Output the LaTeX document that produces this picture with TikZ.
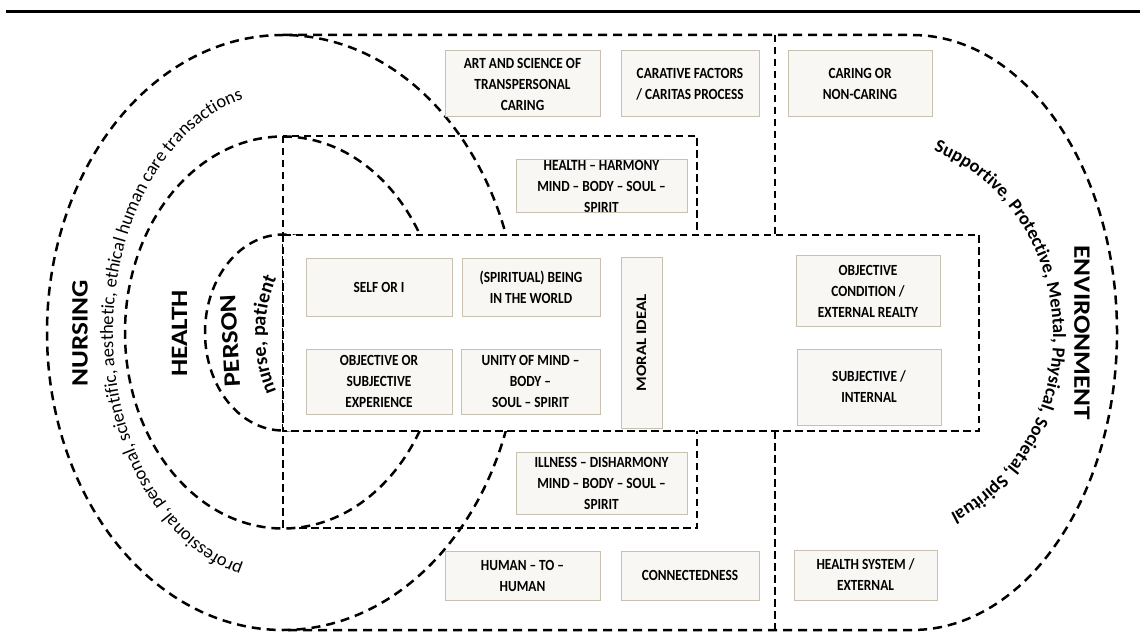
\documentclass[tikz,border=0pt]{standalone}
\usepackage{fontspec}
\setmainfont{Carlito}
\newfontfamily\boxfont[FakeStretch=0.86]{Carlito}
\newfontfamily\labelfont[FakeStretch=1.16]{Carlito}
\usetikzlibrary{decorations.text}
\definecolor{boxfill}{HTML}{F8F7F3}
\definecolor{boxline}{HTML}{C8C0B0}
\tikzstyle{ring} = [line width=2.5pt, dash pattern=on 9pt off 6pt]
\tikzstyle{frame} = [line width=2pt, dash pattern=on 7.5pt off 4.5pt]
\tikzstyle{box} = [draw=boxline, fill=boxfill, line width=1pt, inner sep=0pt, align=center, font=\boxfont\bfseries\fontsize{15.5}{21}\selectfont]
\tikzstyle{bigword} = [font=\labelfont\bfseries\fontsize{23.5}{23.5}\selectfont]

\begin{document}
\begin{tikzpicture}[x=1pt, y=-1pt]
	\useasboundingbox (0,0) rectangle (1140,644);
	\draw[line width=3pt] (6,12) -- (1140,12);
	\draw[frame] (283,136) rectangle (697,528);
	\draw[ring] (283,332.5) ellipse [x radius=236pt, y radius=297.5pt];
	\draw[ring] (283,332.5) ellipse [x radius=158pt, y radius=196pt];
	\draw[ring] (283,332.5) ellipse [x radius=78pt, y radius=98pt];
	\draw[ring] (283,35) -- (912,35) arc[start angle=90, end angle=-90, x radius=205pt, y radius=297.5pt] -- (283,630);
	\draw[frame] (775,35) -- (775,630);
	\draw[frame, fill=white] (283,235) rectangle (979,431);
	\node[box, minimum width=155pt, minimum height=66pt] (art) at (522.5,84) {ART AND SCIENCE OF\\TRANSPERSONAL\\CARING};
	\node[box, minimum width=138pt, minimum height=66pt] (carative) at (690,84) {CARATIVE FACTORS\\/ CARITAS PROCESS};
	\node[box, minimum width=144pt, minimum height=66pt] (caring) at (860,84) {CARING OR\\NON-CARING};
	\node[box, minimum width=171pt, minimum height=53pt] (harmony) at (601.5,186.5) {HEALTH – HARMONY\\MIND – BODY – SOUL –\\SPIRIT};
	\node[box, minimum width=146pt, minimum height=57pt] (self) at (379,287.5) {SELF OR I};
	\node[box, minimum width=138pt, minimum height=57pt] (being) at (531,287.5) {(SPIRITUAL) BEING\\IN THE WORLD};
	\node[box, minimum width=146pt, minimum height=65pt] (experience) at (379,381.5) {OBJECTIVE OR\\SUBJECTIVE\\EXPERIENCE};
	\node[box, minimum width=139pt, minimum height=65pt] (unity) at (530.5,381.5) {UNITY OF MIND –\\BODY –\\SOUL – SPIRIT};
	\node[box, rotate=90, minimum width=170pt, minimum height=41pt, font=\labelfont\bfseries\fontsize{14.5}{14.5}\selectfont] (moral) at (641.5,343) {MORAL IDEAL};
	\node[box, minimum width=144pt, minimum height=70pt] (condition) at (868,291) {OBJECTIVE\\CONDITION /\\EXTERNAL REALTY};
	\node[box, minimum width=144pt, minimum height=76pt] (internal) at (869,387) {SUBJECTIVE /\\INTERNAL};
	\node[box, minimum width=171pt, minimum height=62pt] (disharmony) at (601.5,483) {ILLNESS – DISHARMONY\\MIND – BODY – SOUL –\\SPIRIT};
	\node[box, minimum width=155pt, minimum height=49pt] (human) at (522.5,575.5) {HUMAN – TO –\\HUMAN};
	\node[box, minimum width=138pt, minimum height=49pt] (connect) at (690,575.5) {CONNECTEDNESS};
	\node[box, minimum width=143pt, minimum height=50pt] (system) at (865.5,575) {HEALTH SYSTEM /\\EXTERNAL};
	\node[bigword, rotate=90] (nursing) at (80,333.5) {NURSING};
	\node[bigword, rotate=90] (health) at (179.5,333.5) {HEALTH};
	\node[bigword, rotate=93] (person) at (230,341) {PERSON};
	\node[bigword, rotate=-90] (environment) at (1082,333) {ENVIRONMENT};
	\path[decorate, decoration={text along path, text align=center, text={|\fontsize{18.5}{18.5}\selectfont|professional, personal, scientific, aesthetic, ethical human care transactions}}] ([shift={(283,332.5)}]-92:170pt and 240pt) arc[start angle=-92, end angle=-268, x radius=170pt, y radius=240pt];
	\path[decorate, decoration={text along path, text align=center, text={|\bfseries\fontsize{20}{20}\selectfont|nurse, patient}}] ([shift={(410,335)}]215:145pt) arc[start angle=215, end angle=145, radius=145pt];
	\path[decorate, decoration={text along path, text align=center, text={|\bfseries\fontsize{18.5}{18.5}\selectfont|Supportive, Protective, Mental, Physical, Societal, Spiritual}}] ([shift={(878,336)}]88:175pt and 195pt) arc[start angle=88, end angle=-82, x radius=175pt, y radius=195pt];
\end{tikzpicture}
\end{document}
